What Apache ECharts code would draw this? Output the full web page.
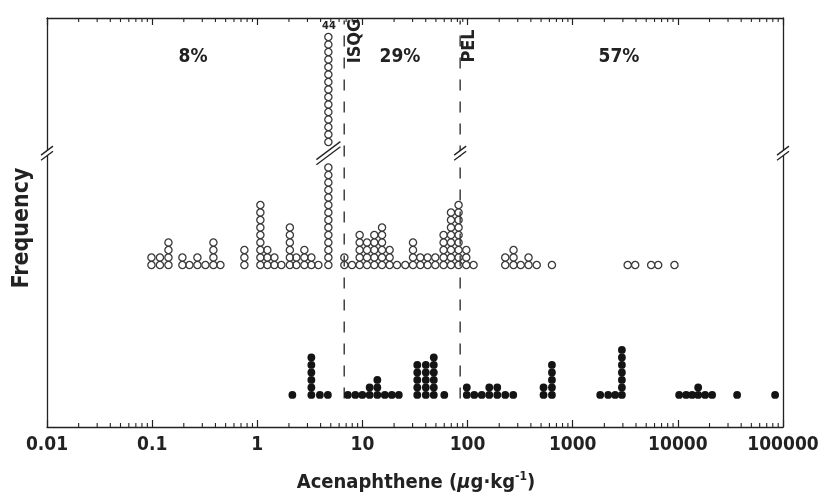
<!DOCTYPE html>
<html><head><meta charset="utf-8">
<script src="https://cdn.jsdelivr.net/npm/echarts@6/dist/echarts.min.js"></script>
<style>html,body{margin:0;padding:0;background:#fff}#c{width:828px;height:504px}</style>
</head><body><div id="c"></div>
<script>
// ---- data (µg/kg, count of samples stacked at that value) ----
const openValues  = [0.0985,0.1186,0.1429,0.194,0.2262,0.2695,0.3211,0.3826,0.4459,0.754,
  1.07,1.247,1.454,1.695,2.041,2.353,2.804,3.268,3.809,4.743,
  6.73,7.96,9.41,11.06,12.97,15.36,18.14,21.32,25.57,30.27,35.52,41.67,49.32,59.14,69.55,82.13,97.2,114.0,
  228.2,273.7,320.4,380.0,454.9,634.4,
  3332,3928,5574,6498,9283];
const openCounts  = [2,2,4,2,1,2,1,4,1,3,
  9,3,2,1,6,2,3,2,1,44,
  2,1,5,4,5,6,3,1,1,4,2,2,2,5,8,9,3,1,
  2,3,1,2,1,1,
  1,1,1,1,1];
const filledValues = [2.156,3.268,3.937,4.69,
  7.264,8.56,9.98,11.71,13.86,16.33,19.03,22.18,33.25,40.07,47.72,60.04,
  98.3,115.8,136.5,160.8,191.6,228.2,271.9,527.8,634.4,
  1826,2175,2535,2936,
  10290,11990,13670,15600,18180,21190,36610,84100];
const filledCounts = [1,6,1,1,
  1,1,1,2,3,1,1,1,5,5,6,1,
  2,1,1,2,2,1,1,2,5,
  1,1,1,7,
  1,1,1,2,1,1,1,1];
const decadeTicks = [0.01,0.1,1,10,100,1000,10000,100000];
const ISQG = 6.71, PEL = 85;
const percentLabels = ['8%','29%','57%'];
const tallCountLabel = '44';

// ---- layout ----
const Y_MAX = 54.53, OPEN_BASE = 21.6, FILLED_BASE = 4.27;
const BREAK_KEEP = 14, BREAK_RESUME = 29, BREAK_RESUME_AT = 16.4, BREAK_ROW = 14.9;
const FONT = "'Liberation Sans Narrow','Arial Narrow','DejaVu Sans Condensed','Liberation Sans',sans-serif";

function rowPos(r){
  if (r < BREAK_KEEP) return r;
  if (r >= BREAK_RESUME) return r - BREAK_RESUME + BREAK_RESUME_AT;
  return null;
}
function stack(values, counts, base){
  const pts = [];
  values.forEach((v,i)=>{
    for (let r=0;r<counts[i];r++){ const p=rowPos(r); if(p!==null) pts.push([v, base+p]); }
  });
  return pts;
}
const minorTicks = [];
for (let i=0;i<decadeTicks.length-1;i++) for (let m=2;m<=9;m++) minorTicks.push(Number((m*decadeTicks[i]).toPrecision(3)));

const tallIdx = openCounts.indexOf(Math.max.apply(null, openCounts));
const breakY = OPEN_BASE + BREAK_ROW;
const breakData = [[decadeTicks[0], breakY], [openValues[tallIdx], breakY], [PEL, breakY], [decadeTicks[decadeTicks.length-1], breakY]];
const breakHalf = [6, 12, 6, 6];

const chart = echarts.init(document.getElementById('c'), null, {renderer:'canvas'});
const axisCommon = {
  type:'log', logBase:10, min:0.01, max:100000, splitNumber:7,
  axisLine:{show:true, onZero:false, lineStyle:{color:'#222', width:1.3}},
  axisTick:{show:true, inside:true, length:7, lineStyle:{color:'#222', width:1.2}},
  splitLine:{show:false}, minorTick:{show:false}
};
chart.setOption({
  animation:false,
  backgroundColor:'#fff',
  grid:{left:47, right:45, top:18, bottom:77},
  xAxis:[
    Object.assign({}, axisCommon, {position:'bottom',
      axisLabel:{show:true, margin:9, fontSize:19, fontWeight:'bold', color:'#222', fontFamily:FONT,
        formatter:v=>String(Number(Number(v).toPrecision(6)))}}),
    Object.assign({}, axisCommon, {position:'top', axisLabel:{show:false}})
  ],
  yAxis:[
    {type:'value', min:0, max:Y_MAX, position:'left', axisLine:{show:true, onZero:false, lineStyle:{color:'#222', width:1.3}},
      axisTick:{show:false}, axisLabel:{show:false}, splitLine:{show:false}},
    {type:'value', min:0, max:Y_MAX, position:'right', axisLine:{show:true, onZero:false, lineStyle:{color:'#222', width:1.3}},
      axisTick:{show:false}, axisLabel:{show:false}, splitLine:{show:false}}
  ],
  series:[
    {type:'line', data:[[ISQG,3.8],[ISQG,54.2]], symbol:'none', silent:true,
      lineStyle:{color:'#333', width:1.4, type:[11,11]}, z:2},
    {type:'line', data:[[PEL,3.8],[PEL,54.2]], symbol:'none', silent:true,
      lineStyle:{color:'#333', width:1.4, type:[11,11]}, z:2},
    {type:'scatter', data:stack(openValues, openCounts, OPEN_BASE), symbol:'circle', symbolSize:7.2,
      itemStyle:{color:'rgba(255,255,255,0)', borderColor:'#3a3a3a', borderWidth:1.3, opacity:1}, z:3},
    {type:'scatter', data:stack(filledValues, filledCounts, FILLED_BASE), symbol:'circle', symbolSize:7.8,
      itemStyle:{color:'#141414', opacity:1}, z:3},
    {type:'custom', data:minorTicks.map(v=>[v,0]), silent:true, z:4,
      renderItem:function(params, api){
        const b = api.coord([api.value(0), 0]);
        const t = api.coord([api.value(0), Y_MAX]);
        const st = {stroke:'#222', lineWidth:1.1};
        return {type:'group', children:[
          {type:'line', shape:{x1:b[0], y1:b[1], x2:b[0], y2:b[1]-4}, style:st},
          {type:'line', shape:{x1:t[0], y1:t[1], x2:t[0], y2:t[1]+4}, style:st}
        ]};
      }},
    {type:'custom', data:breakData, silent:true, z:10,
      renderItem:function(params, api){
        const p = api.coord([api.value(0), api.value(1)]);
        const w = breakHalf[params.dataIndex], h = w*0.75, g = 2.6;
        const st = {stroke:'#222', lineWidth:1.3};
        return {type:'group', children:[
          {type:'polygon', shape:{points:[[p[0]-w,p[1]+h-g],[p[0]+w,p[1]-h-g],[p[0]+w,p[1]-h+g],[p[0]-w,p[1]+h+g]]}, style:{fill:'#fff'}},
          {type:'line', shape:{x1:p[0]-w, y1:p[1]+h-g, x2:p[0]+w, y2:p[1]-h-g}, style:st},
          {type:'line', shape:{x1:p[0]-w, y1:p[1]+h+g, x2:p[0]+w, y2:p[1]-h+g}, style:st}
        ]};
      }}
  ],
  graphic:[
    {type:'text', x:22, y:228, rotation:Math.PI/2, style:{text:'Frequency', font:'bold 23px '+FONT, fill:'#222', align:'center', verticalAlign:'middle'}},
    {type:'text', x:193, y:57, style:{text:percentLabels[0], font:'bold 19px '+FONT, fill:'#222', align:'center', verticalAlign:'middle'}},
    {type:'text', x:400, y:57, style:{text:percentLabels[1], font:'bold 19px '+FONT, fill:'#222', align:'center', verticalAlign:'middle'}},
    {type:'text', x:619, y:57, style:{text:percentLabels[2], font:'bold 19px '+FONT, fill:'#222', align:'center', verticalAlign:'middle'}},
    {type:'text', x:355, y:41, rotation:Math.PI/2, style:{text:'ISQG', font:'bold 18px '+FONT, fill:'#222', align:'center', verticalAlign:'middle'}},
    {type:'text', x:469, y:46, rotation:Math.PI/2, style:{text:'PEL', font:'bold 18px '+FONT, fill:'#222', align:'center', verticalAlign:'middle'}},
    {type:'text', x:329, y:26, style:{text:tallCountLabel, font:'bold 11px '+FONT, fill:'#222', align:'center', verticalAlign:'middle'}},
    {type:'text', x:416, y:483, style:{
      text:'{a|Acenaphthene (}{i|µ}{a|g·kg}{s|-1}{a|)}', align:'center', verticalAlign:'middle',
      rich:{
        a:{fontSize:20, fontWeight:'bold', fontFamily:FONT, fill:'#222', lineHeight:24},
        i:{fontSize:20, fontWeight:'bold', fontStyle:'italic', fontFamily:FONT, fill:'#222', lineHeight:24},
        s:{fontSize:12, fontWeight:'bold', fontFamily:FONT, fill:'#222', lineHeight:24, verticalAlign:'top'}
      }}}
  ]
});
</script>
</body></html>
